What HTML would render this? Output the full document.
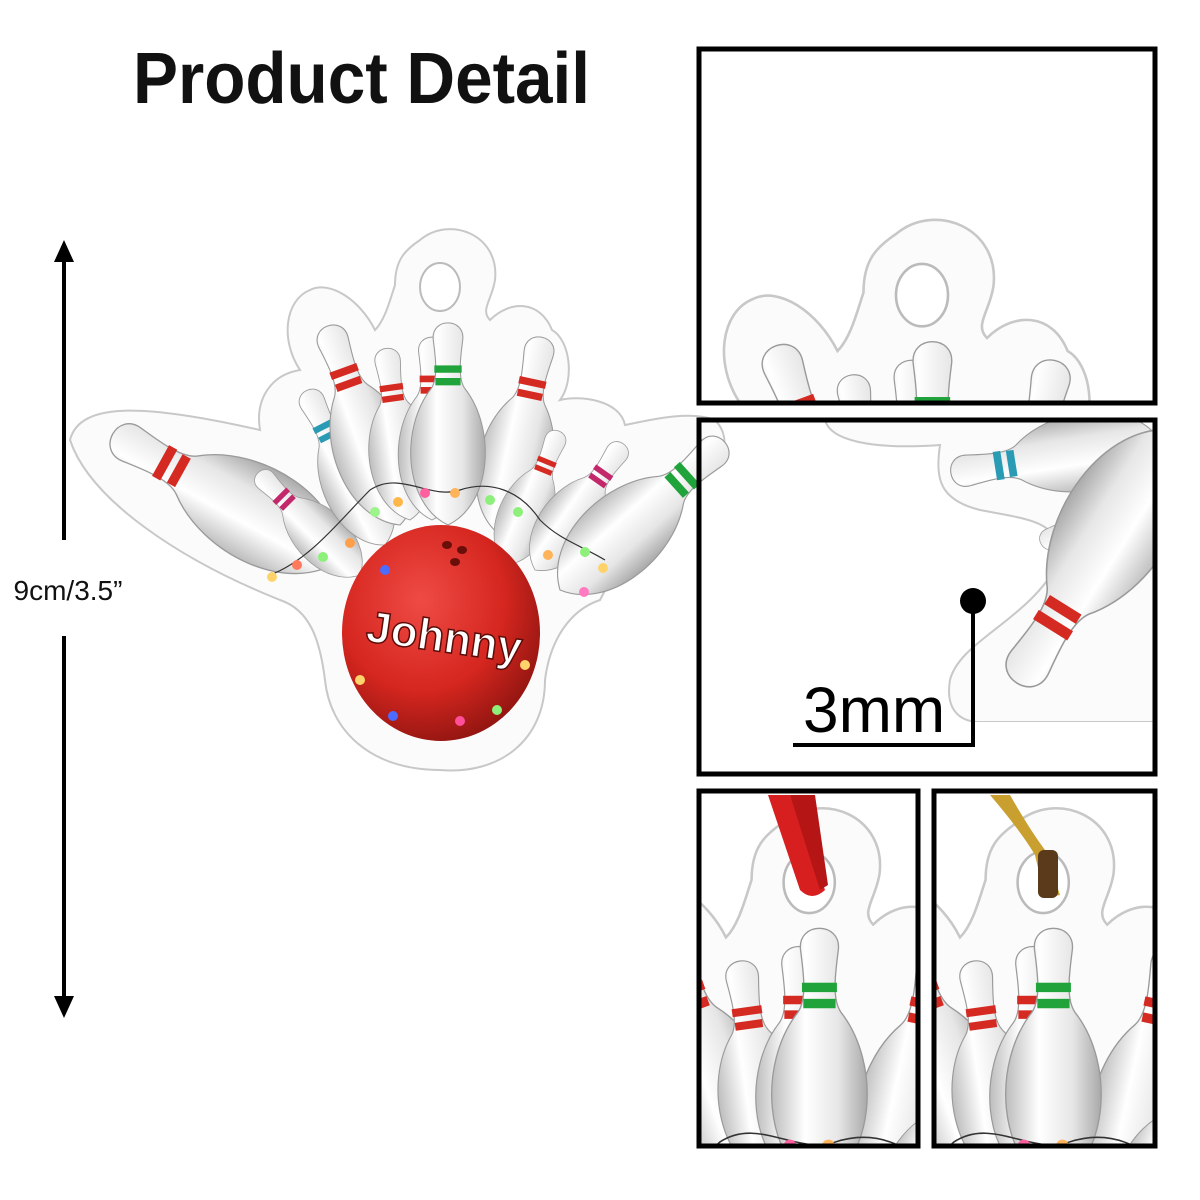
<!DOCTYPE html>
<html><head><meta charset="utf-8"><style>
html,body{margin:0;padding:0;background:#fff;width:1200px;height:1200px;overflow:hidden;position:relative;}
svg{display:block;position:absolute;left:0;top:0}
</style></head><body>
<svg width="1200" height="1200" viewBox="0 0 1200 1200" xmlns="http://www.w3.org/2000/svg" overflow="hidden">
<defs>
  <linearGradient id="pinG" x1="0" x2="1" y1="0" y2="0">
    <stop offset="0" stop-color="#bdbdbd"/><stop offset="0.35" stop-color="#ffffff"/><stop offset="0.7" stop-color="#e6e6e6"/><stop offset="1" stop-color="#a9a9a9"/>
  </linearGradient>
  <radialGradient id="ballG" cx="0.4" cy="0.35" r="0.7">
    <stop offset="0" stop-color="#ef4b45"/><stop offset="0.6" stop-color="#d5261f"/><stop offset="1" stop-color="#8e1410"/>
  </radialGradient>
  <path id="pinShape" d="M0,0 C-42,-20 -46,-92 -16,-130 C-9,-140 -12,-160 -14,-176 C-17,-198 17,-198 14,-176 C12,-160 9,-140 16,-130 C46,-92 42,-20 0,0Z" fill="url(#pinG)" stroke="#9a9a9a" stroke-width="1"/>
  <g id="pinR"><use href="#pinShape"/>
    <rect x="-13" y="-152" width="26" height="7" fill="#d52a22"/><rect x="-12" y="-140" width="24" height="7" fill="#d52a22"/></g>
  <g id="pinGr"><use href="#pinShape"/>
    <rect x="-13" y="-152" width="26" height="7" fill="#1fa33a"/><rect x="-12" y="-140" width="24" height="7" fill="#1fa33a"/></g>
  <g id="pinT"><use href="#pinShape"/>
    <rect x="-13" y="-152" width="26" height="7" fill="#2a9bb5"/><rect x="-12" y="-140" width="24" height="7" fill="#2a9bb5"/></g>
  <g id="pinP"><use href="#pinShape"/>
    <rect x="-13" y="-152" width="26" height="7" fill="#c2286a"/><rect x="-12" y="-140" width="24" height="7" fill="#c2286a"/></g>
  <g id="orn">
    <path d="M420,240 C450,215 500,235 495,280 C492,300 480,310 490,320 C510,300 540,300 552,330 C570,340 575,380 560,400 C580,395 620,400 625,425 C650,420 690,410 715,420 C735,440 720,470 700,480 C650,520 620,560 600,600 C570,610 550,640 545,680 C545,740 500,775 440,770 C370,770 330,730 325,680 C320,640 310,610 280,600 C180,560 90,500 70,440 C80,400 150,405 260,430 C255,400 270,375 300,370 C280,340 285,300 310,290 C330,280 360,300 375,330 C385,320 390,300 395,285 C395,260 405,250 420,240Z" fill="#fbfbfb" stroke="#c8c8c8" stroke-width="2"/>
    <ellipse cx="440" cy="287" rx="20" ry="24" fill="#fff" stroke="#bbb" stroke-width="2"/>
    <use href="#pinR" transform="translate(340,560) rotate(-61) scale(1.35)"/>
    <use href="#pinP" transform="translate(360,575) rotate(-45) scale(0.75)"/>
    <use href="#pinT" transform="translate(385,545) rotate(-27) scale(0.9)"/>
    <use href="#pinR" transform="translate(400,525) rotate(-20) scale(1.1)"/>
    <use href="#pinR" transform="translate(410,520) rotate(-8) scale(0.9)"/>
    <use href="#pinR" transform="translate(432,520) rotate(0) scale(0.95)"/>
    <use href="#pinR" transform="translate(500,535) rotate(12) scale(1.05)"/>
    <use href="#pinR" transform="translate(505,565) rotate(22) scale(0.75)"/>
    <use href="#pinP" transform="translate(535,570) rotate(35) scale(0.8)"/>
    <use href="#pinGr" transform="translate(448,525) rotate(0) scale(1.05)"/>
    <use href="#pinGr" transform="translate(560,590) rotate(48) scale(1.15)"/>
    <path d="M270,575 C310,560 340,520 370,490 C400,470 430,500 460,490 C490,480 520,490 540,520 C560,540 580,545 605,560" fill="none" stroke="#333" stroke-width="1.2"/>
    <ellipse cx="441" cy="633" rx="99" ry="108" fill="url(#ballG)"/>
    <ellipse cx="447" cy="545" rx="5" ry="4" fill="#6a0e0a"/>
    <ellipse cx="462" cy="550" rx="5" ry="4" fill="#6a0e0a"/>
    <ellipse cx="455" cy="562" rx="5" ry="4" fill="#6a0e0a"/>
    <g>
      <circle cx="272" cy="577" r="5" fill="#ffd36b"/><circle cx="297" cy="565" r="5" fill="#ff7a5c"/>
      <circle cx="323" cy="557" r="5" fill="#8cf07a"/><circle cx="350" cy="543" r="5" fill="#ff9f4a"/>
      <circle cx="375" cy="512" r="5" fill="#9cf58a"/><circle cx="398" cy="502" r="5" fill="#ffb74a"/>
      <circle cx="425" cy="493" r="5" fill="#ff5f9e"/><circle cx="455" cy="493" r="5" fill="#ffb35a"/>
      <circle cx="490" cy="500" r="5" fill="#8cf07a"/><circle cx="518" cy="512" r="5" fill="#8cf07a"/>
      <circle cx="548" cy="555" r="5" fill="#ffb35a"/><circle cx="585" cy="552" r="5" fill="#8cf07a"/>
      <circle cx="603" cy="568" r="5" fill="#ffd36b"/><circle cx="584" cy="592" r="5" fill="#ff7ac0"/>
      <circle cx="385" cy="570" r="5" fill="#4c6bff"/><circle cx="360" cy="680" r="5" fill="#ffd36b"/>
      <circle cx="393" cy="716" r="5" fill="#4c6bff"/><circle cx="460" cy="721" r="5" fill="#ff4f9a"/>
      <circle cx="497" cy="710" r="5" fill="#8cf07a"/><circle cx="525" cy="665" r="5" fill="#ffd36b"/>
    </g>
    <text x="444" y="652" text-anchor="middle" font-family="Liberation Sans, sans-serif" font-weight="bold" font-size="44" fill="#fff" stroke="#5a0c08" stroke-width="1.5" transform="rotate(8 444 640)">Johnny</text>
  </g>
  <clipPath id="c1"><rect x="699" y="49" width="456" height="354"/></clipPath>
  <clipPath id="c2"><rect x="699" y="420" width="456" height="354"/></clipPath>
  <clipPath id="c3"><rect x="699" y="791" width="219" height="355"/></clipPath>
  <clipPath id="c4"><rect x="934" y="791" width="221" height="355"/></clipPath>
</defs>

<text x="133" y="103" textLength="457" lengthAdjust="spacingAndGlyphs" font-family="Liberation Sans, sans-serif" font-weight="bold" font-size="72" fill="#111">Product Detail</text>

<line x1="64" y1="258" x2="64" y2="540" stroke="#000" stroke-width="4"/>
<line x1="64" y1="636" x2="64" y2="1000" stroke="#000" stroke-width="4"/>
<polygon points="64,240 54,262 74,262" fill="#000"/>
<polygon points="64,1018 54,996 74,996" fill="#000"/>
<text x="68" y="600" text-anchor="middle" font-family="Liberation Sans, sans-serif" font-size="28" fill="#111">9cm/3.5”</text>

<use href="#orn"/>

<g clip-path="url(#c1)"><use href="#orn" transform="translate(350,-78) scale(1.3)"/></g>
<rect x="699" y="49" width="456" height="354" fill="none" stroke="#000" stroke-width="5"/>

<g clip-path="url(#c2)">
  <path d="M825,420 C830,440 870,450 940,445 C935,480 940,500 980,510 C1030,520 1060,520 1060,560 C1030,620 960,640 950,680 C945,710 960,722 980,722 L1155,722 L1155,420Z" fill="#fbfbfb" stroke="#c8c8c8" stroke-width="2"/>
  <use href="#pinT" transform="translate(1160,440) rotate(-99) scale(1.1)"/>
  <use href="#pinP" transform="translate(1165,470) rotate(-121) scale(0.75)"/>
  <use href="#pinR" transform="translate(1175,430) rotate(-148) scale(1.55)"/>
  <rect x="699" y="722" width="456" height="52" fill="#fff"/>
</g>
<rect x="699" y="420" width="456" height="354" fill="none" stroke="#000" stroke-width="5"/>
<text x="803" y="732" font-family="Liberation Sans, sans-serif" font-size="64" fill="#000">3mm</text>
<line x1="793" y1="745" x2="975" y2="745" stroke="#000" stroke-width="4"/>
<line x1="973" y1="602" x2="973" y2="745" stroke="#000" stroke-width="4"/>
<circle cx="973" cy="601" r="13" fill="#000"/>

<g clip-path="url(#c3)">
  <use href="#orn" transform="translate(246,515) scale(1.28)"/>
  <path d="M768,795 L790,795 L825,890 Q812,902 800,890 Z" fill="#d81f1f"/>
  <path d="M790,795 L815,795 L828,885 L820,890 Z" fill="#b51515"/>
</g>
<rect x="699" y="791" width="219" height="355" fill="none" stroke="#000" stroke-width="5"/>

<g clip-path="url(#c4)">
  <use href="#orn" transform="translate(480,515) scale(1.28)"/>
  <path d="M1010,795 Q1030,830 1045,850 L1060,895 L1045,898 L1035,855 Q1020,830 990,795Z" fill="#c9a030"/>
  <rect x="1038" y="850" width="20" height="48" rx="6" fill="#5a3a1a"/>
</g>
<rect x="934" y="791" width="221" height="355" fill="none" stroke="#000" stroke-width="5"/>
</svg>
</body></html>
